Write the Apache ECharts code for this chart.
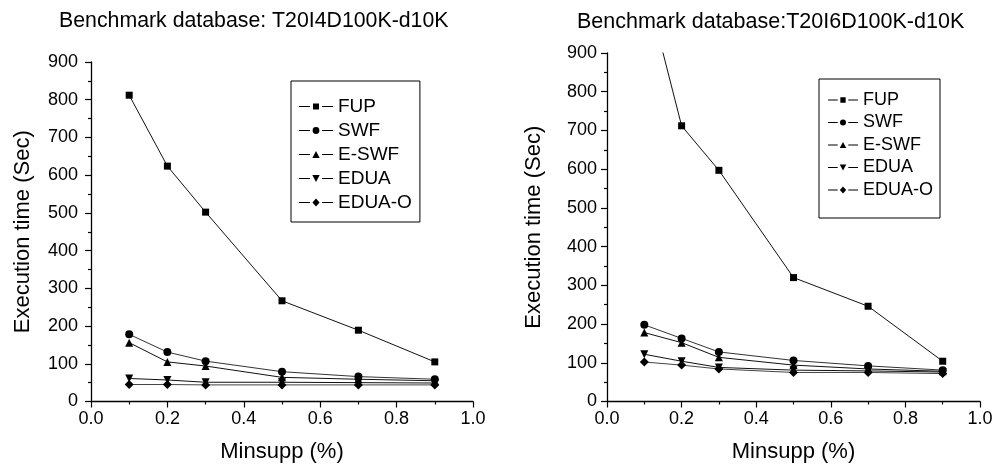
<!DOCTYPE html>
<html><head><meta charset="utf-8">
<script src="https://cdn.jsdelivr.net/npm/echarts@6/dist/echarts.min.js"></script>
<style>html,body{margin:0;padding:0;background:#fff}#c{width:995px;height:466px}</style>
</head><body><div id="c"></div>
<script>
// ---- data ----
const minsupp = [0.1, 0.2, 0.3, 0.5, 0.7, 0.9];
const seriesNames = ['FUP', 'SWF', 'E-SWF', 'EDUA', 'EDUA-O'];
const xTickLabels = ['0.0', '0.2', '0.4', '0.6', '0.8', '1.0'];
const yTickLabels = ['0', '100', '200', '300', '400', '500', '600', '700', '800', '900'];
const chartTitles = ['Benchmark database: T20I4D100K-d10K', 'Benchmark database:T20I6D100K-d10K'];
const xAxisName = 'Minsupp (%)';
const yAxisName = 'Execution time (Sec)';
// left chart: T20I4D100K-d10K
const fupA   = [812, 624, 502, 267, 189, 105];
const swfA   = [178, 131, 107, 79, 66, 59];
const eswfA  = [156, 105, 94, 64, 59, 55];
const eduaA  = [61, 57, 51, 51, 50, 49];
const eduaoA = [45, 45, 44, 44, 44, 44];
// right chart: T20I6D100K-d10K
const fupB   = [1090, 712, 597, 320, 246, 104];
const swfB   = [198, 163, 128, 106, 92, 81];
const eswfB  = [178, 152, 114, 94, 84, 78];
const eduaB  = [122, 104, 88, 81, 79, 76];
const eduaoB = [102, 94, 84, 75, 75, 72];

// ---- styles ----
const FONT = '"Liberation Sans", Arial, Helvetica, sans-serif';
const symbols = ['rect', 'circle', 'triangle', 'path://M0,0 L10,0 L5,9 Z', 'diamond'];
const symSizes = [7, 8, 8, 8, 9];
const lineColors = ['#111', '#333', '#111', '#111', '#444'];

// legend icons: "—marker—" with gaps (34 x 9 box)
const SEG = 'M0,4 L11,4 L11,5.1 L0,5.1 Z M23,4 L34,4 L34,5.1 L23,5.1 Z ';
const legendMarks = [
  'M14,1.5 L20,1.5 L20,7.5 L14,7.5 Z',
  'M13.6,4.5 A3.4,3.4 0 1 0 20.4,4.5 A3.4,3.4 0 1 0 13.6,4.5 Z',
  'M13.3,8 L17,1.2 L20.7,8 Z',
  'M13.3,1.2 L20.7,1.2 L17,8 Z',
  'M17,0.6 L20.6,4.5 L17,8.4 L13.4,4.5 Z'
];
function legendData() {
  return seriesNames.map((n, k) => ({ name: n, icon: 'path://' + SEG + legendMarks[k] }));
}

function pairs(vals) { return minsupp.map((x, i) => [x, vals[i]]); }

function makeSeries(arrs, gi) {
  return arrs.map((vals, k) => ({
    name: seriesNames[k],
    type: 'line',
    xAxisIndex: gi, yAxisIndex: gi,
    data: pairs(vals),
    symbol: symbols[k],
    symbolSize: symSizes[k],
    showSymbol: true,
    clip: true,
    lineStyle: { color: lineColors[k], width: 1 },
    itemStyle: { color: '#000', borderWidth: 0 },
    emphasis: { disabled: true },
    animation: false
  }));
}

function xAxis(gi) {
  return {
    type: 'value', gridIndex: gi, min: 0, max: 1, interval: 0.2,
    name: xAxisName, nameLocation: 'middle', nameGap: 39, nameMoveOverlap: false,
    nameTextStyle: { fontSize: 22, color: '#000', fontFamily: FONT },
    axisLine: { show: true, onZero: false, lineStyle: { color: '#000', width: 1.3 } },
    axisTick: { show: true, inside: false, length: 6, lineStyle: { color: '#000', width: 1.2 } },
    minorTick: { show: true, splitNumber: 2, length: 3, lineStyle: { color: '#000', width: 1.2 } },
    axisLabel: { margin: 9, fontSize: 18, color: '#000', fontFamily: FONT,
      formatter: v => xTickLabels[Math.round(v / 0.2)] },
    splitLine: { show: false }, minorSplitLine: { show: false }
  };
}
function yAxis(gi, gap, margin) {
  return {
    type: 'value', gridIndex: gi, min: 0, max: 900, interval: 100,
    name: yAxisName, nameLocation: 'middle', nameGap: gap, nameRotate: 90, nameMoveOverlap: false,
    nameTextStyle: { fontSize: 22, color: '#000', fontFamily: FONT },
    axisLine: { show: true, onZero: false, lineStyle: { color: '#000', width: 1.3 } },
    axisTick: { show: true, inside: false, length: 6, lineStyle: { color: '#000', width: 1.2 } },
    minorTick: { show: true, splitNumber: 2, length: 3, lineStyle: { color: '#000', width: 1.2 } },
    axisLabel: { margin: margin, fontSize: 18, color: '#000', fontFamily: FONT,
      formatter: v => yTickLabels[Math.round(v / 100)] },
    splitLine: { show: false }, minorSplitLine: { show: false }
  };
}

const chart = echarts.init(document.getElementById('c'), null, { renderer: 'canvas' });
chart.setOption({
  backgroundColor: '#fff',
  animation: false,
  title: [
    { text: chartTitles[0], left: 59, top: 11, padding: 0,
      textStyle: { fontSize: 21.3, fontWeight: 'normal', color: '#000', fontFamily: FONT } },
    { text: chartTitles[1], left: 577, top: 11, padding: 0,
      textStyle: { fontSize: 21.5, fontWeight: 'normal', color: '#000', fontFamily: FONT } }
  ],
  grid: [
    { left: 91, top: 62, width: 382, height: 339.5, containLabel: false, outerBoundsMode: 'none' },
    { left: 607, top: 53, width: 373, height: 348.5, containLabel: false, outerBoundsMode: 'none' }
  ],
  legend: [
    { data: legendData(), orient: 'vertical', left: 291, top: 81,
      padding: [16, 8, 10, 8], itemGap: 5, itemWidth: 34, itemHeight: 9,
      borderColor: '#000', borderWidth: 1, borderRadius: 0, selectedMode: false,
      itemStyle: { color: '#000', borderWidth: 0 }, lineStyle: { width: 0 },
      textStyle: { fontSize: 19, color: '#000', fontFamily: FONT } },
    { data: legendData(), orient: 'vertical', left: 819, top: 79,
      padding: [12, 7, 19, 9], itemGap: 4.5, itemWidth: 30, itemHeight: 8,
      borderColor: '#000', borderWidth: 1, borderRadius: 0, selectedMode: false,
      itemStyle: { color: '#000', borderWidth: 0 }, lineStyle: { width: 0 },
      textStyle: { fontSize: 18, color: '#000', fontFamily: FONT } }
  ],
  xAxis: [xAxis(0), xAxis(1)],
  yAxis: [yAxis(0, 57, 13), yAxis(1, 62, 10)],
  series: makeSeries([fupA, swfA, eswfA, eduaA, eduaoA], 0)
    .concat(makeSeries([fupB, swfB, eswfB, eduaB, eduaoB], 1))
});
</script>
</body></html>
